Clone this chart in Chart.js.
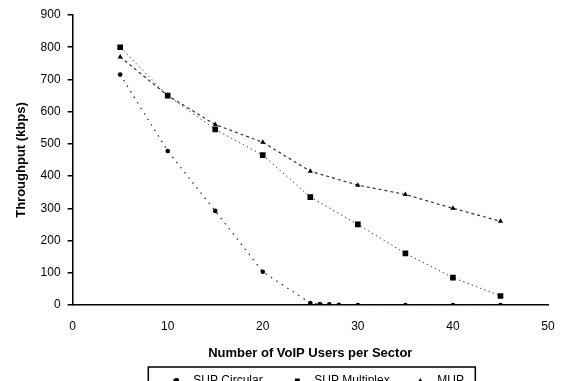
<html>
    <head>
        <style>
            body { margin: 0; overflow: hidden; background: #fff; }
        </style>
        <script src="https://cdn.jsdelivr.net/npm/chart.js"></script>
    </head>
    <body>
        <canvas id="chart" width="564" height="381"></canvas>
        <script>
            // values
            var seriesNames = ['SUP Circular', 'SUP Multiplex', 'MUP'];
            var circularUsers = [5, 10, 15, 20, 25, 26, 27, 28, 30, 35, 40, 45];
            var circularThroughput = [715, 478, 292, 103, 6, 3, 2, 1, 0, 0, 0, 0];
            var multiplexUsers = [5, 10, 15, 20, 25, 30, 35, 40, 45];
            var multiplexThroughput = [800, 650, 545, 465, 335, 250, 160, 85, 28];
            var mupUsers = [5, 10, 15, 20, 25, 30, 35, 40, 45];
            var mupThroughput = [770, 650, 560, 505, 415, 372, 343, 300, 260];

            var FONT = 'Arial, "Liberation Sans", sans-serif';

            function toPoints(xs, ys) {
                var pts = [];
                for (let i = 0; i < xs.length; i++) {
                    pts.push({x: xs[i], y: ys[i]});
                }
                return pts;
            }

            // spreadsheet style legend in a frame, mostly below the visible area
            var boxedLegend = {
                id: 'boxedLegend',
                afterDraw: function(chart) {
                    var c = chart.ctx;
                    var mid = (chart.chartArea.left + chart.chartArea.right) / 2;
                    var top = 367;
                    var offsets = [-134, -13, 110];
                    c.save();
                    c.strokeStyle = '#000';
                    c.lineWidth = 1.5;
                    c.strokeRect(mid - 162, top, 327, 28);
                    c.fillStyle = '#000';
                    c.font = '12px ' + FONT;
                    c.textBaseline = 'middle';
                    chart.data.datasets.forEach(function(ds, i) {
                        var mx = mid + offsets[i];
                        var my = top + 14;
                        Chart.helpers.drawPoint(c, {
                            pointStyle: ds.pointStyle,
                            radius: ds.pointStyle == 'rect' ? 3.5 : 3,
                            borderWidth: 0
                        }, mx, my);
                        c.fillText(ds.label, mx + 17, my);
                    });
                    c.restore();
                }
            };

            var ctx = document.getElementById('chart').getContext('2d');
            var myChart = new Chart(ctx, {
                type: 'scatter',
                data: {
                    datasets: [{
                        label: seriesNames[0],
                        data: toPoints(circularUsers, circularThroughput),
                        showLine: true,
                        borderColor: '#222',
                        backgroundColor: '#000',
                        borderWidth: 1.2,
                        borderDash: [1.5, 5],
                        pointStyle: 'circle',
                        pointRadius: 2.3,
                        pointBorderWidth: 0
                    }, {
                        label: seriesNames[1],
                        data: toPoints(multiplexUsers, multiplexThroughput),
                        showLine: true,
                        borderColor: '#444',
                        backgroundColor: '#000',
                        borderWidth: 1,
                        borderDash: [1.5, 3],
                        pointStyle: 'rect',
                        pointRadius: 4,
                        pointBorderWidth: 0
                    }, {
                        label: seriesNames[2],
                        data: toPoints(mupUsers, mupThroughput),
                        showLine: true,
                        borderColor: '#333',
                        backgroundColor: '#000',
                        borderWidth: 1.2,
                        borderDash: [3, 3],
                        pointStyle: 'triangle',
                        pointRadius: 3,
                        pointBorderWidth: 0
                    }]
                },
                options: {
                    responsive: false,
                    animation: false,
                    layout: {
                        padding: {top: 15, right: 16, left: 14, bottom: 20}
                    },
                    scales: {
                        x: {
                            type: 'linear',
                            min: 0,
                            max: 50,
                            ticks: {
                                stepSize: 10,
                                color: '#000',
                                padding: 6,
                                font: {family: FONT, size: 12}
                            },
                            grid: {display: false},
                            border: {display: true, color: '#000', width: 1.5},
                            title: {
                                display: true,
                                text: 'Number of VoIP Users per Sector',
                                color: '#000',
                                padding: {top: 6, bottom: 0},
                                font: {family: FONT, size: 13, weight: 'bold'}
                            }
                        },
                        y: {
                            min: 0,
                            max: 900,
                            ticks: {
                                stepSize: 100,
                                color: '#000',
                                padding: 7,
                                font: {family: FONT, size: 12}
                            },
                            grid: {
                                drawOnChartArea: false,
                                drawTicks: true,
                                tickLength: 5,
                                color: '#000',
                                lineWidth: 1.5
                            },
                            border: {display: true, color: '#000', width: 1.5},
                            title: {
                                display: true,
                                text: 'Throughput (kbps)',
                                color: '#000',
                                padding: {top: 0, bottom: 4},
                                font: {family: FONT, size: 13, weight: 'bold'}
                            }
                        }
                    },
                    plugins: {
                        tooltip: {enabled: false},
                        legend: {display: false}
                    }
                },
                plugins: [boxedLegend]
            });
        </script>
    </body>
</html>
